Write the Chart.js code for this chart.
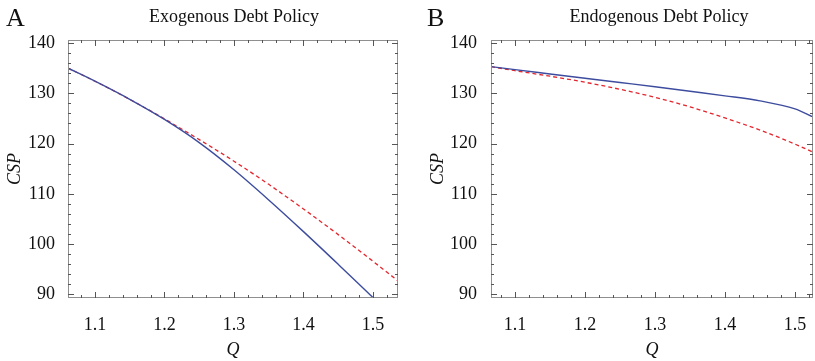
<!DOCTYPE html>
<html>
<head>
<meta charset="utf-8">
<script src="https://cdn.jsdelivr.net/npm/chart.js@4"></script>
<style>
  body { margin: 0; background: #fff; }
  #wrap { position: relative; width: 815px; height: 361px; overflow: hidden; }
  .panel { position: absolute; top: 0; height: 361px; }
</style>
</head>
<body>
<div id="wrap">
  <div class="panel" style="left:0;width:405px"><canvas id="chartA"></canvas></div>
  <div class="panel" style="left:405px;width:410px"><canvas id="chartB"></canvas></div>
</div>
<script>
// tick labels
const xTicks = [1.1, 1.2, 1.3, 1.4, 1.5];
const yTicks = [90, 100, 110, 120, 130, 140];

// panel A - exogenous debt policy
const qA = [1.0612, 1.1, 1.15, 1.2, 1.25, 1.3, 1.35, 1.4, 1.45, 1.5, 1.536];
const blueA = [135.0, 132.4, 128.8, 124.8, 120.2, 114.8, 108.8, 102.5, 96.0, 89.4, 84.5];
const redA = [135.0, 132.4, 128.8, 124.9, 120.8, 116.5, 111.9, 107.0, 101.9, 96.6, 92.7];

// panel B - endogenous debt policy
const qB = [1.0657, 1.1, 1.15, 1.2, 1.25, 1.3, 1.35, 1.4, 1.45, 1.5, 1.5257];
const blueB = [135.3, 134.7, 133.85, 133.0, 132.15, 131.3, 130.4, 129.5, 128.5, 126.9, 125.3];
const redB = [135.3, 134.5, 133.4, 132.2, 130.8, 129.2, 127.3, 125.1, 122.7, 119.9, 118.3];

const serif = "'Liberation Serif', 'DejaVu Serif', serif";
const BLUE = '#3d4c9e';
const RED = '#e3262e';

function pairs(xs, ys) {
  return xs.map((x, i) => ({x: x, y: ys[i]}));
}

// frame, inward ticks, panel letter and title
const framePlugin = {
  id: 'frame',
  afterDraw(chart, args, opts) {
    const ctx = chart.ctx;
    const a = chart.chartArea;
    const xs = chart.scales.x, ys = chart.scales.y;
    ctx.save();
    ctx.strokeStyle = '#8f8f8f';
    ctx.lineWidth = 1;
    ctx.strokeRect(a.left + 0.5, a.top + 0.5, a.right - a.left - 1, a.bottom - a.top - 1);

    ctx.strokeStyle = '#555';
    ctx.beginPath();
    for (let v = 1.0; v <= 1.6001; v += 0.02) {
      const px = Math.round(xs.getPixelForValue(v)) + 0.5;
      if (px <= a.left + 1 || px >= a.right - 1) continue;
      const major = xTicks.some(t => Math.abs(t - v) < 1e-6);
      const len = major ? 6 : 3;
      ctx.moveTo(px, a.bottom); ctx.lineTo(px, a.bottom - len);
      ctx.moveTo(px, a.top); ctx.lineTo(px, a.top + len);
    }
    for (let v = 88; v <= 142; v += 2) {
      const py = Math.round(ys.getPixelForValue(v)) + 0.5;
      if (py <= a.top + 1 || py >= a.bottom - 1) continue;
      const major = v % 10 === 0;
      const len = major ? 6 : 3;
      ctx.moveTo(a.left, py); ctx.lineTo(a.left + len, py);
      ctx.moveTo(a.right, py); ctx.lineTo(a.right - len, py);
    }
    ctx.stroke();

    ctx.fillStyle = '#111';
    ctx.textBaseline = 'middle';
    ctx.textAlign = 'center';
    ctx.font = '18px ' + serif;
    ctx.fillText(opts.title, opts.titleX, 17);
    ctx.textAlign = 'left';
    ctx.font = '26px ' + serif;
    ctx.fillText(opts.letter, opts.letterX, 19);
    ctx.restore();
  }
};

function makeChart(id, q, blue, red, xMin, xMax, yAxisWidth, yTitlePad, yTickPad, rightPad, title, titleX, letter, letterX) {
  return new Chart(document.getElementById(id), {
    type: 'line',
    data: {
      datasets: [
        {
          data: pairs(q, blue),
          borderColor: BLUE,
          borderWidth: 1.4,
          pointRadius: 0,
          cubicInterpolationMode: 'monotone'
        },
        {
          data: pairs(q, red),
          borderColor: RED,
          borderWidth: 1.3,
          borderDash: [4, 3],
          pointRadius: 0,
          cubicInterpolationMode: 'monotone'
        }
      ]
    },
    options: {
      responsive: true,
      maintainAspectRatio: false,
      animation: false,
      layout: { padding: { top: 40, right: rightPad, left: 0, bottom: 0 } },
      plugins: {
        legend: { display: false },
        tooltip: { enabled: false },
        frame: { title: title, titleX: titleX, letter: letter, letterX: letterX }
      },
      scales: {
        x: {
          type: 'linear',
          min: xMin,
          max: xMax,
          afterBuildTicks: s => { s.ticks = xTicks.map(v => ({value: v})); },
          afterFit: s => { s.height = 63; },
          grid: { display: false },
          border: { display: false },
          ticks: {
            padding: 8,
            color: '#111',
            font: { family: serif, size: 18 },
            callback: v => v.toFixed(1)
          },
          title: {
            display: true,
            text: 'Q',
            color: '#111',
            padding: { top: 0, bottom: 0 },
            font: { family: serif, size: 18, style: 'italic' }
          }
        },
        y: {
          min: 89.3,
          max: 140.6,
          afterBuildTicks: s => { s.ticks = yTicks.map(v => ({value: v})); },
          afterFit: s => { s.width = yAxisWidth; },
          grid: { display: false },
          border: { display: false },
          ticks: {
            padding: yTickPad,
            color: '#111',
            font: { family: serif, size: 18 }
          },
          title: {
            display: true,
            text: 'CSP',
            color: '#111',
            padding: { top: yTitlePad, bottom: 0 },
            font: { family: serif, size: 18, style: 'italic' }
          }
        }
      }
    },
    plugins: [framePlugin]
  });
}

makeChart('chartA', qA, blueA, redA, 1.0612, 1.536, 68, 4, 5, 7,
  'Exogenous Debt Policy', 234, 'A', 6);
makeChart('chartB', qB, blueB, redB, 1.0657, 1.5257, 86, 22, 6, 2,
  'Endogenous Debt Policy', 254, 'B', 22);
</script>
</body>
</html>
